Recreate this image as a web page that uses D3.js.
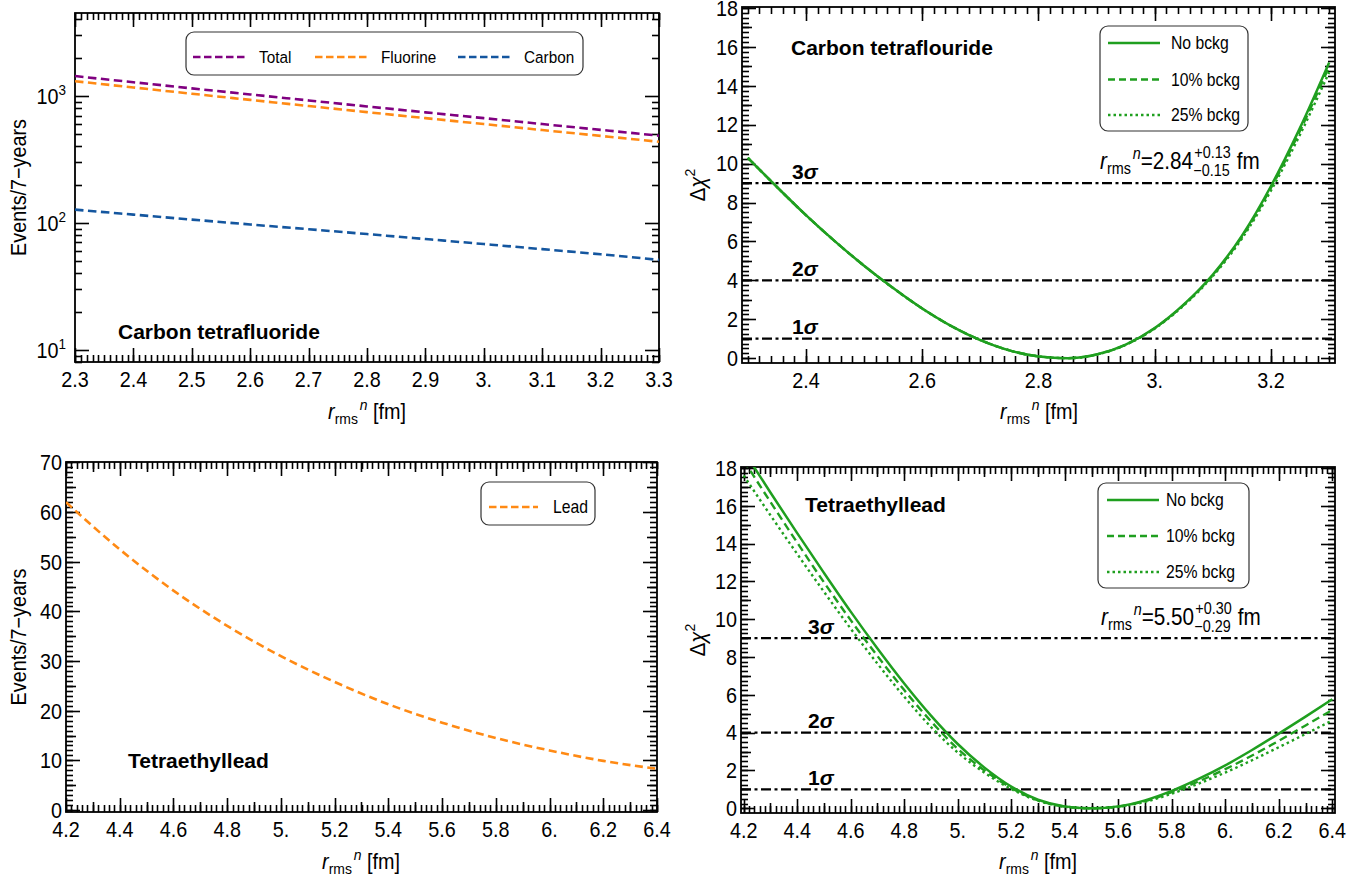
<!DOCTYPE html>
<html><head><meta charset="utf-8">
<script src="https://cdn.jsdelivr.net/npm/d3@7"></script>
<style>
body{margin:0;background:#fff}
svg text{font-family:"Liberation Sans",Arial,Helvetica,sans-serif;fill:#000}
</style></head>
<body><svg id="c" width="1367" height="886"></svg>
<script>
// ---------------- DATA ----------------
const xCF = [2.3,2.4,2.5,2.6,2.7,2.8,2.9,3.0,3.1,3.2,3.3];
const totalCF    = [1433,1281,1146,1027,921,826,742,668,600,540,486];
const fluorineCF = [1306,1165,1040,930,832,745,668,600,538,484,435];
const carbonCF   = [127,116,106,97,89,81.5,74.5,68,62,56.5,51];
const eventSeriesCF = ["Total","Fluorine","Carbon"];

const xChiCF = [2.30,2.35,2.40,2.45,2.50,2.55,2.60,2.65,2.70,2.75,2.80,2.85,2.90,2.95,3.00,3.05,3.10,3.15,3.20,3.25,3.30];
const chiCF0  = [10.3,8.8,7.35,6.0,4.75,3.6,2.55,1.65,0.93,0.40,0.09,0.0,0.19,0.70,1.55,2.76,4.30,6.30,8.85,11.85,15.2];
const chiCF10 = [10.3,8.8,7.35,6.0,4.75,3.6,2.55,1.65,0.93,0.40,0.09,0.0,0.19,0.69,1.54,2.74,4.27,6.24,8.76,11.70,15.0];
const chiCF25 = [10.3,8.8,7.35,6.0,4.75,3.6,2.55,1.65,0.93,0.40,0.09,0.0,0.18,0.68,1.52,2.71,4.22,6.15,8.62,11.50,14.7];

const xPb = [4.2,4.4,4.6,4.8,5.0,5.2,5.4,5.6,5.8,6.0,6.2,6.4];
const leadPb = [62.0,52.5,44.2,37.1,31.0,25.8,21.3,17.6,14.5,12.0,9.9,8.3];

const xChiPb = [4.2,4.3,4.4,4.5,4.6,4.7,4.8,4.9,5.0,5.1,5.2,5.3,5.4,5.5,5.6,5.7,5.8,5.9,6.0,6.1,6.2,6.3,6.4];
const chiPb0  = [18.9,16.7,14.55,12.45,10.4,8.45,6.6,4.9,3.4,2.15,1.15,0.45,0.1,0.0,0.1,0.42,0.92,1.55,2.27,3.08,3.95,4.85,5.77];
const chiPb10 = [18.4,16.2,14.05,11.95,9.95,8.05,6.25,4.6,3.15,2.0,1.08,0.42,0.09,0.0,0.09,0.38,0.85,1.42,2.07,2.79,3.57,4.38,5.2];
const chiPb25 = [17.6,15.5,13.45,11.45,9.5,7.65,5.9,4.3,2.95,1.88,1.02,0.4,0.08,0.0,0.08,0.34,0.77,1.3,1.89,2.54,3.23,3.93,4.65];
const bckgLabels = ["No bckg","10% bckg","25% bckg"];

const sigmaLevels = [1,4,9];
const sigmaNames = ["1","2","3"];
const fitCF = ["2.84","+0.13","\u22120.15"];
const fitPb = ["5.50","+0.30","\u22120.29"];

const ticksCFx = [2.3,2.4,2.5,2.6,2.7,2.8,2.9,3.0,3.1,3.2,3.3];
const ticksLogY = [10,100,1000];
const ticksChiCFx = [2.4,2.6,2.8,3.0,3.2];
const ticksChiY = [0,2,4,6,8,10,12,14,16,18];
const ticksPbx = [4.2,4.4,4.6,4.8,5.0,5.2,5.4,5.6,5.8,6.0,6.2,6.4];
const ticksPbY = [0,10,20,30,40,50,60,70];

// ---------------- DRAWING ----------------
const svg = d3.select("#c");
const SX = 0.9;
const TICK_COLOR = "#000", TICK_W = 1.6;
function fmtX(v){ const r=Math.round(v*10)/10; return (r%1===0) ? r+"." : r.toFixed(1); }
function txt(parent, x, y, size, anchor, rot){
  return parent.append("text")
    .attr("transform",`translate(${x},${y})${rot?` rotate(${rot})`:""} scale(${SX},1)`)
    .attr("font-size",size).attr("text-anchor",anchor||"start");
}
function panel(o){
  const x = d3.scaleLinear().domain(o.xDomain).range([o.l,o.r]);
  const y = (o.log ? d3.scaleLog() : d3.scaleLinear()).domain(o.yDomain).range([o.b,o.t]);
  svg.append("clipPath").attr("id","clip"+o.id).append("rect")
    .attr("x",o.l).attr("y",o.t).attr("width",o.r-o.l).attr("height",o.b-o.t);
  const ag = svg.append("g");
  const xs0 = Math.min(o.xDomain[0],o.xDomain[1]), xs1 = Math.max(o.xDomain[0],o.xDomain[1]);
  const segs = [];
  const rd = v => Math.round(v)+0.5;
  [[o.xMinor,7],[o.xMid||[],10],[o.xMajor,14]].forEach(([vals,L])=>{
    vals.forEach(v=>{
      if(v < xs0-1e-9 || v > xs1+1e-9) return;
      const px = rd(x(v));
      segs.push([px,o.b,px,o.b-L],[px,o.t,px,o.t+L]);
    });
  });
  [[o.yMinor,7],[o.yMid||[],10],[o.yMajor,14]].forEach(([vals,L])=>{
    vals.forEach(v=>{
      if(v < o.yDomain[0]-1e-9 || v > o.yDomain[1]+1e-9) return;
      const py = rd(y(v));
      segs.push([o.l,py,o.l+L,py],[o.r,py,o.r-L,py]);
    });
  });
  svg.append("rect").attr("x",o.l).attr("y",o.t).attr("width",o.r-o.l).attr("height",o.b-o.t)
    .attr("fill","none").attr("stroke","#000").attr("stroke-width",1.8);
  svg.append("g").selectAll("line").data(segs).join("line")
    .attr("x1",s=>s[0]).attr("y1",s=>s[1]).attr("x2",s=>s[2]).attr("y2",s=>s[3])
    .style("stroke",TICK_COLOR).style("stroke-width",TICK_W+"px");
  o.xLabels.forEach(v=>{ txt(ag, x(v), o.b+25, 22, "middle").text(fmtX(v)); });
  if(o.log){
    o.yLabels.forEach(v=>{
      const t = txt(ag, o.l-9, y(v)+8, 22, "end");
      t.append("tspan").text("10");
      t.append("tspan").attr("font-size",15).attr("dy",-9).text(Math.round(Math.log10(v)));
    });
  } else {
    o.yLabels.forEach(v=>{ txt(ag, o.l-4, y(v)+7.8, 22, "end").text(v); });
  }
  const dg = svg.append("g").attr("clip-path",`url(#clip${o.id})`);
  return {x,y,dg,o};
}

function drawLine(P, xs, ys, color, dash, w){
  const line = d3.line().x((d,i)=>P.x(xs[i])).y(d=>P.y(d)).curve(d3.curveMonotoneX);
  P.dg.append("path").attr("d",line(ys)).attr("fill","none").attr("stroke",color)
    .attr("stroke-width",w||2.6).attr("stroke-dasharray",dash||null);
}
function xLabel(cx, by){
  const t = txt(svg, cx, by, 22, "middle");
  t.append("tspan").attr("font-style","italic").text("r");
  t.append("tspan").attr("font-size",15.5).attr("dy",5).text("rms");
  t.append("tspan").attr("font-size",15.5).attr("font-style","italic").attr("dy",-14.5).attr("dx",2).text("n");
  t.append("tspan").attr("dy",9.5).attr("dx",6).text("[fm]");
}
function yLabelEvents(bx, cy){ txt(svg, bx, cy, 22, "middle", -90).text("Events/7\u2212years"); }
function yLabelChi(bx, cy){
  const t = txt(svg, bx, cy, 22.5, "middle", -90);
  t.append("tspan").text("\u0394");
  t.append("tspan").attr("font-style","italic").text("\u03c7");
  t.append("tspan").attr("font-size",15.5).attr("dy",-10).text("2");
}
function title(x0, by, s){
  svg.append("text").attr("x",x0).attr("y",by).attr("font-size",21).attr("font-weight","bold").text(s);
}
function sigmaLines(P, lx){
  sigmaLevels.forEach((lv,i)=>{
    P.dg.append("line").attr("x1",P.o.l).attr("x2",P.o.r).attr("y1",P.y(lv)).attr("y2",P.y(lv))
      .attr("stroke","#000").attr("stroke-width",2.2).attr("stroke-dasharray","10,3.5,3,3.5");
    const t = svg.append("text").attr("x",lx).attr("y",P.y(lv)-4.5).attr("font-size",21).attr("font-weight","bold");
    t.append("tspan").text(sigmaNames[i]);
    t.append("tspan").attr("font-style","italic").text("\u03c3");
  });
}
function fitAnnot(x0, by, f){
  const t = txt(svg, x0, by, 23);
  t.append("tspan").attr("font-style","italic").text("r");
  t.append("tspan").attr("font-size",16).attr("dy",5).text("rms");
  t.append("tspan").attr("font-size",16).attr("font-style","italic").attr("dy",-15).attr("dx",2).text("n");
  t.append("tspan").attr("dy",10).text("="+f[0]);
  const w = t.node().getComputedTextLength()*SX + 2;
  const a = txt(svg, x0+w+1, by-11.5, 16).text(f[1]);
  const b = txt(svg, x0+w, by+7, 16).text(f[2]);
  const w2 = Math.max(a.node().getComputedTextLength(), b.node().getComputedTextLength())*SX;
  txt(svg, x0+w+w2+7, by, 23).text("fm");
}
function legendBox(x0,y0,w,h){
  svg.append("rect").attr("x",x0).attr("y",y0).attr("width",w).attr("height",h)
    .attr("rx",8).attr("fill","#fff").attr("stroke","#333").attr("stroke-width",1.2);
}
function legendItem(x1,x2,yc,tx,label,color,dash,fs){
  svg.append("line").attr("x1",x1).attr("x2",x2).attr("y1",yc).attr("y2",yc)
    .attr("stroke",color).attr("stroke-width",2.4).attr("stroke-dasharray",dash||null);
  txt(svg, tx, yc+6, fs||17.5).text(label);
}

const cPurple="#800080", cOrange="#ff8a14", cBlue="#14569f", cGreen="#1f9f1f";
const dashEv="8.5,4.5", dashG="8,4.5", dotG="2.5,3.2";

const logMinor = [];
[1,10,100,1000].forEach(d=>{ for(let k=2;k<=9;k++){ const v=k*d; if(v>=8 && v<=4500) logMinor.push(v);} });
const A = panel({id:"A", l:75,r:659,t:13,b:362, xDomain:[2.3,3.3], yDomain:[8,4500], log:true,
  xMajor:ticksCFx, xMinor:d3.range(2.3,3.3001,0.01), xLabels:ticksCFx,
  yMajor:ticksLogY, yMinor:logMinor, yLabels:ticksLogY});
drawLine(A, xCF, totalCF, cPurple, dashEv);
drawLine(A, xCF, fluorineCF, cOrange, dashEv);
drawLine(A, xCF, carbonCF, cBlue, dashEv);
legendBox(186,32,397,43);
legendItem(193,245,57,259,eventSeriesCF[0],cPurple,"7.5,3.5",17);
legendItem(315,367,57,381,eventSeriesCF[1],cOrange,"7.5,3.5",17);
legendItem(458,510,57,524,eventSeriesCF[2],cBlue,"7.5,3.5",17);
title(118,339,"Carbon tetrafluoride");
yLabelEvents(26,187.5);
xLabel(367,419);

const B = panel({id:"B", l:742,r:1335,t:7,b:363, xDomain:[2.29,3.31], yDomain:[-0.25,18.05],
  xMajor:ticksChiCFx, xMinor:d3.range(2.3,3.3001,0.02), xLabels:ticksChiCFx,
  yMajor:ticksChiY, yMid:d3.range(1,18,2), yMinor:d3.range(0,18.001,0.25), yLabels:ticksChiY});
sigmaLines(B, 792);
drawLine(B, xChiCF, chiCF25, cGreen, dotG, 2.4);
drawLine(B, xChiCF, chiCF10, cGreen, dashG, 2.4);
drawLine(B, xChiCF, chiCF0, cGreen, null, 2.5);
legendBox(1100,26,148,105);
legendItem(1108,1160,43,1171,bckgLabels[0],cGreen,null);
legendItem(1108,1160,79.5,1171,bckgLabels[1],cGreen,"7,4");
legendItem(1108,1160,115,1171,bckgLabels[2],cGreen,"2.5,3");
title(791,55,"Carbon tetraflouride");
fitAnnot(1100,169,fitCF);
yLabelChi(705,185);
xLabel(1039,419);

const C = panel({id:"C", l:66,r:657,t:462,b:812, xDomain:[4.2,6.4], yDomain:[-0.4,70.1],
  xMajor:ticksPbx, xMid:d3.range(4.3,6.4,0.2), xMinor:d3.range(4.2,6.4001,0.02), xLabels:ticksPbx,
  yMajor:ticksPbY, yMid:d3.range(5,70,10), yMinor:d3.range(0,70.001,1), yLabels:ticksPbY});
drawLine(C, xPb, leadPb, cOrange, "8,4.5");
legendBox(481,482,114,43);
legendItem(489,538,507,553,"Lead",cOrange,"7.5,3.5");
title(128,768,"Tetraethyllead");
yLabelEvents(26,637);
xLabel(361,869);

const D = panel({id:"D", l:741,r:1335,t:467,b:813, xDomain:[4.19,6.41], yDomain:[-0.25,18.05],
  xMajor:ticksPbx, xMid:d3.range(4.3,6.4,0.2), xMinor:d3.range(4.2,6.4001,0.02), xLabels:ticksPbx,
  yMajor:ticksChiY, yMid:d3.range(1,18,2), yMinor:d3.range(0,18.001,0.25), yLabels:ticksChiY});
sigmaLines(D, 808);
drawLine(D, xChiPb, chiPb25, cGreen, dotG, 2.4);
drawLine(D, xChiPb, chiPb10, cGreen, dashG, 2.4);
drawLine(D, xChiPb, chiPb0, cGreen, null, 2.5);
legendBox(1098,483,151,105);
legendItem(1107,1159,500,1166,bckgLabels[0],cGreen,null);
legendItem(1107,1159,536,1166,bckgLabels[1],cGreen,"7,4");
legendItem(1107,1159,572,1166,bckgLabels[2],cGreen,"2.5,3");
title(805,512,"Tetraethyllead");
fitAnnot(1101,625,fitPb);
yLabelChi(705,640);
xLabel(1038,869);
</script></body></html>
